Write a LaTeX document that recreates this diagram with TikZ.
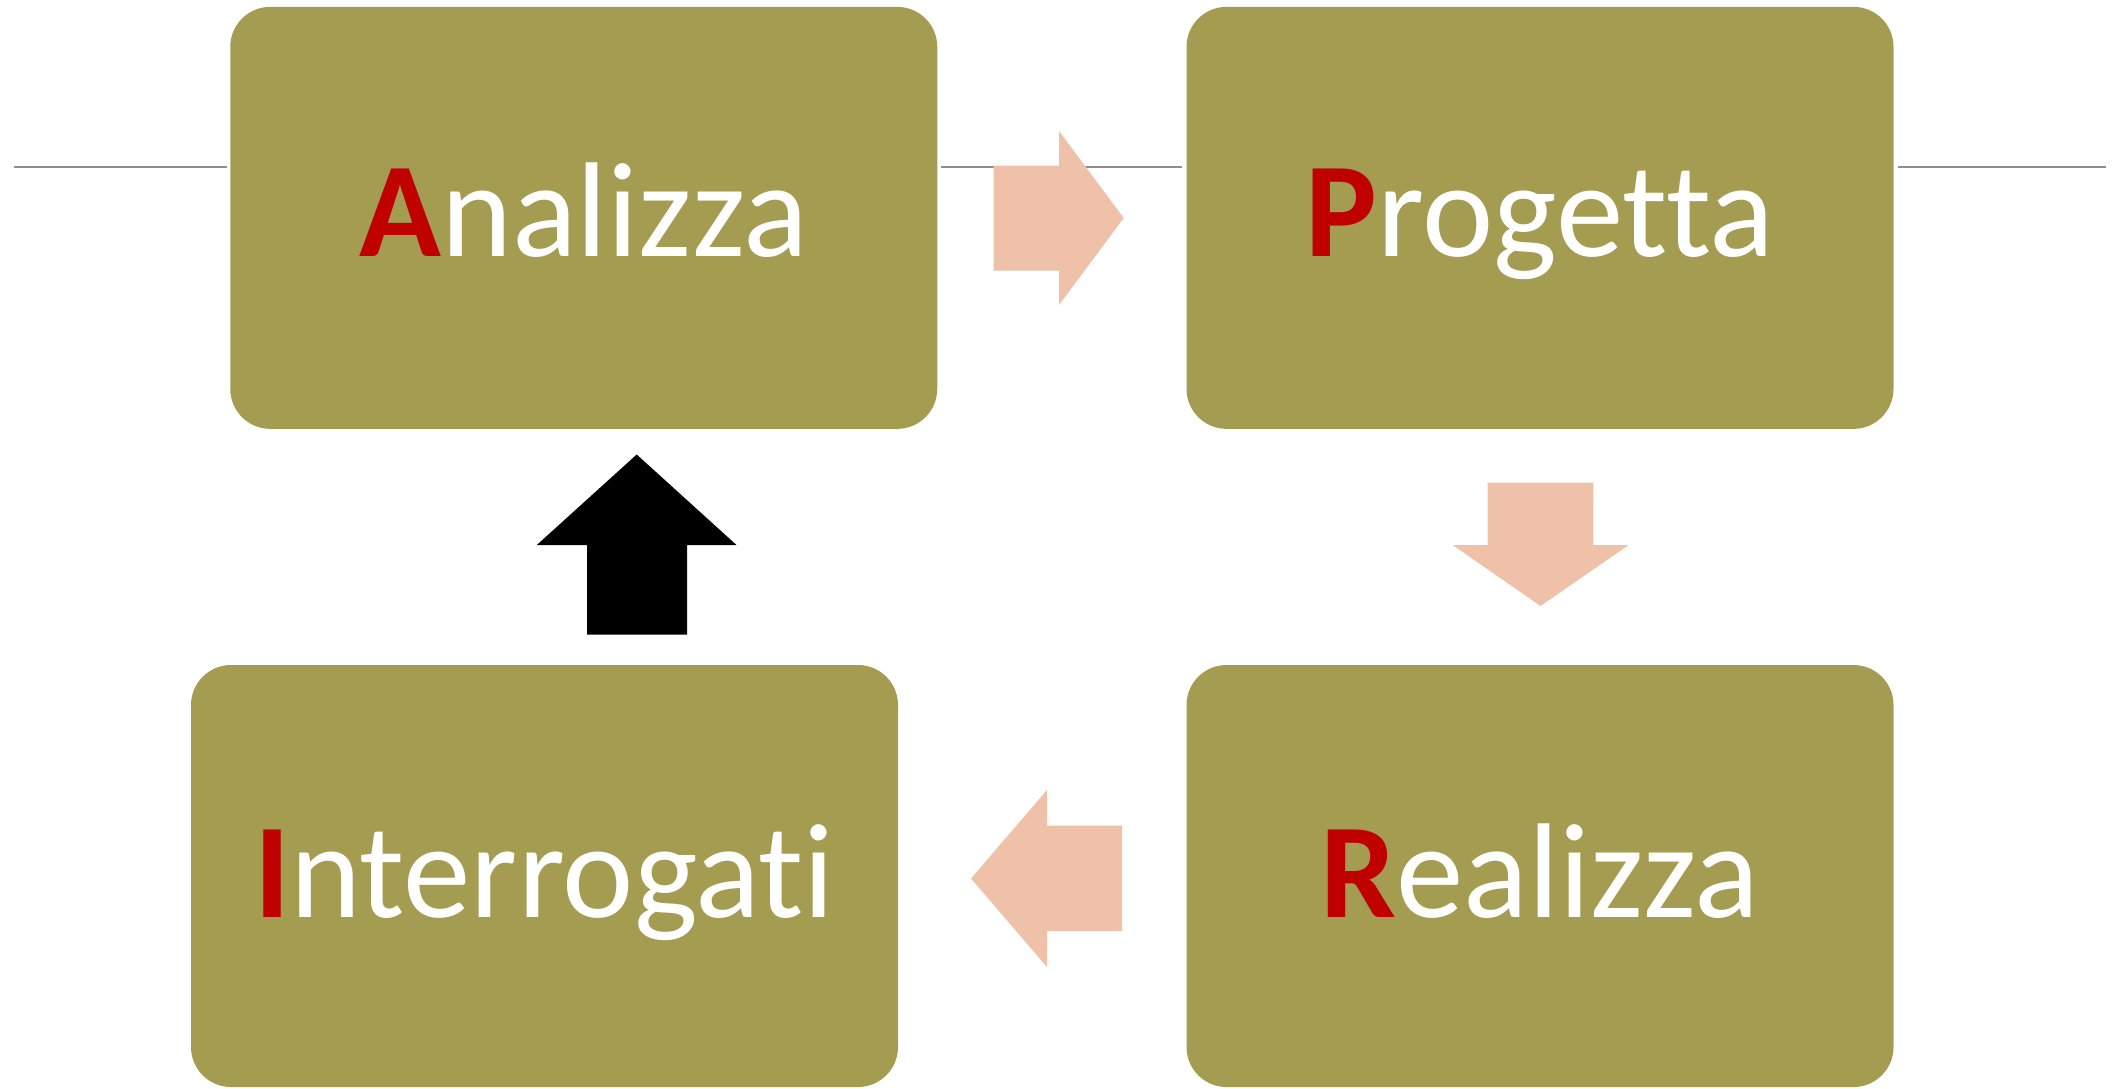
\documentclass[tikz,border=0pt]{standalone}
\usepackage{fontspec}
\setmainfont{Carlito}[Ligatures={NoCommon}]
\usetikzlibrary{calc}
\definecolor{boxc}{HTML}{A49C51}
\definecolor{peach}{HTML}{EFC1A9}
\definecolor{redc}{HTML}{C00000}
\definecolor{linec}{HTML}{8F8F8F}
\begin{document}
\begin{tikzpicture}[x=1pt,y=-1pt,
  box/.style={fill=boxc, draw=none, rounded corners=40pt, minimum width=707pt, minimum height=422pt, inner sep=0pt},
  lbl/.style={text=white, anchor=base, inner sep=0pt, font=\fontsize{135}{160}\selectfont},
  blockarrow/.style={fill=peach, draw=none},
  hline/.style={draw=linec, line width=2pt}]
\useasboundingbox (0,0) rectangle (2114,1088);
% horizontal line segments
\coordinate (h0) at (13.5,166.7);
\coordinate (h1) at (226.5,166.7);
\coordinate (h2) at (941,166.7);
\coordinate (h3) at (1182,166.7);
\coordinate (h4) at (1898,166.7);
\coordinate (h5) at (2106,166.7);
\draw[hline] (h0) -- (h1);
\draw[hline] (h2) -- (h3);
\draw[hline] (h4) -- (h5);
% boxes
\node[box] (A) at (583.75,217.85) {};
\node[box] (P) at (1540,217.85) {};
\node[box] (R) at (1540,876) {};
\node[box] (I) at (544.5,876) {};
% labels
\node[lbl] (tA) at ($(A.center)+(0,39)$) {{\bfseries\color{redc}A}nalizza};
\node[lbl] (tP) at ($(P.center)+(0,39)$) {{\bfseries\color{redc}P}rogetta};
\node[lbl] (tR) at ($(R.center)+(0,41)$) {{\bfseries\color{redc}R}ealizza};
\node[lbl] (tI) at ($(I.center)+(0,41)$) {{\bfseries\color{redc}I}nterrogati};
% block arrows
\fill[blockarrow] (993.7,165.7) -- (1059,165.7) -- (1059,131) -- (1123.7,218) -- (1059,305) -- (1059,270.7) -- (993.7,270.7) -- cycle;
\fill[blockarrow] (1487.7,482.7) -- (1593.4,482.7) -- (1593.4,545) -- (1628.6,545) -- (1540.5,606) -- (1452.6,545) -- (1487.7,545) -- cycle;
\fill[blockarrow] (1122,825.5) -- (1047,825.5) -- (1047,790) -- (971,878.5) -- (1047,967) -- (1047,931) -- (1122,931) -- cycle;
\fill[black] (587,634.5) -- (687,634.5) -- (687,545) -- (736.5,545) -- (636.7,454.5) -- (536.8,545) -- (587,545) -- cycle;
\end{tikzpicture}
\end{document}
